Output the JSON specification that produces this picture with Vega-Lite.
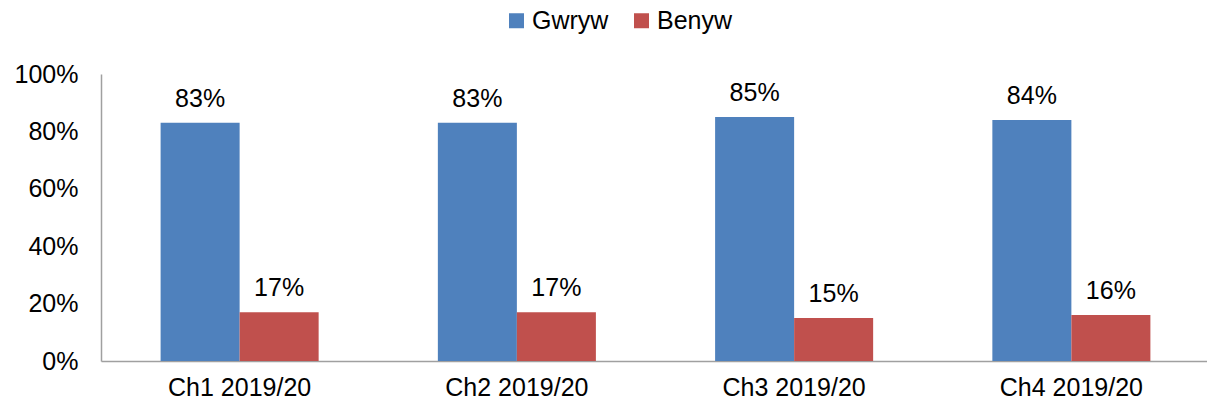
{
  "$schema": "https://vega.github.io/schema/vega-lite/v6.json",
  "width": 1109,
  "height": 287,
  "autosize": {"type": "none"},
  "padding": {"left": 101, "top": 74, "right": 0, "bottom": 48},
  "background": "white",
  "config": {
    "view": {"stroke": null},
    "font": "Liberation Sans"
  },
  "data": {
    "values": [
      {"quarter": "Ch1 2019/20", "gender": "Gwryw", "value": 0.83},
      {"quarter": "Ch1 2019/20", "gender": "Benyw", "value": 0.17},
      {"quarter": "Ch2 2019/20", "gender": "Gwryw", "value": 0.83},
      {"quarter": "Ch2 2019/20", "gender": "Benyw", "value": 0.17},
      {"quarter": "Ch3 2019/20", "gender": "Gwryw", "value": 0.85},
      {"quarter": "Ch3 2019/20", "gender": "Benyw", "value": 0.15},
      {"quarter": "Ch4 2019/20", "gender": "Gwryw", "value": 0.84},
      {"quarter": "Ch4 2019/20", "gender": "Benyw", "value": 0.16}
    ]
  },
  "encoding": {
    "x": {
      "field": "quarter", "type": "nominal", "sort": null,
      "scale": {"paddingInner": 0.43, "paddingOuter": 0.215},
      "axis": {"title": null, "labelAngle": 0, "labelFontSize": 25, "labelColor": "#000000", "labelPadding": 14, "ticks": false, "domainColor": "#A0A0A0", "domainWidth": 1.5}
    },
    "xOffset": {"field": "gender", "type": "nominal", "sort": ["Gwryw", "Benyw"]},
    "y": {
      "field": "value", "type": "quantitative",
      "scale": {"domain": [0, 1], "nice": false},
      "axis": {"title": null, "values": [0, 0.2, 0.4, 0.6, 0.8, 1], "format": ".0%", "labelFontSize": 25, "labelColor": "#000000", "labelPadding": 23, "ticks": false, "grid": false, "domainColor": "#A0A0A0", "domainWidth": 1.5}
    }
  },
  "layer": [
    {
      "mark": {"type": "bar"},
      "encoding": {
        "color": {
          "field": "gender", "type": "nominal", "sort": ["Gwryw", "Benyw"],
          "scale": {"domain": ["Gwryw", "Benyw"], "range": ["#4F81BD", "#C0504D"]},
          "legend": {
            "title": null, "orient": "none", "direction": "horizontal",
            "legendX": 403, "legendY": -66,
            "symbolType": "square", "symbolSize": 225, "symbolStrokeWidth": 0,
            "labelFontSize": 25, "labelColor": "#000000", "columnPadding": 20, "labelOffset": 3
          }
        }
      }
    },
    {
      "mark": {"type": "text", "baseline": "alphabetic", "dy": -16, "fontSize": 25, "color": "#000000"},
      "encoding": {
        "text": {"field": "value", "type": "quantitative", "format": ".0%"}
      }
    }
  ]
}
